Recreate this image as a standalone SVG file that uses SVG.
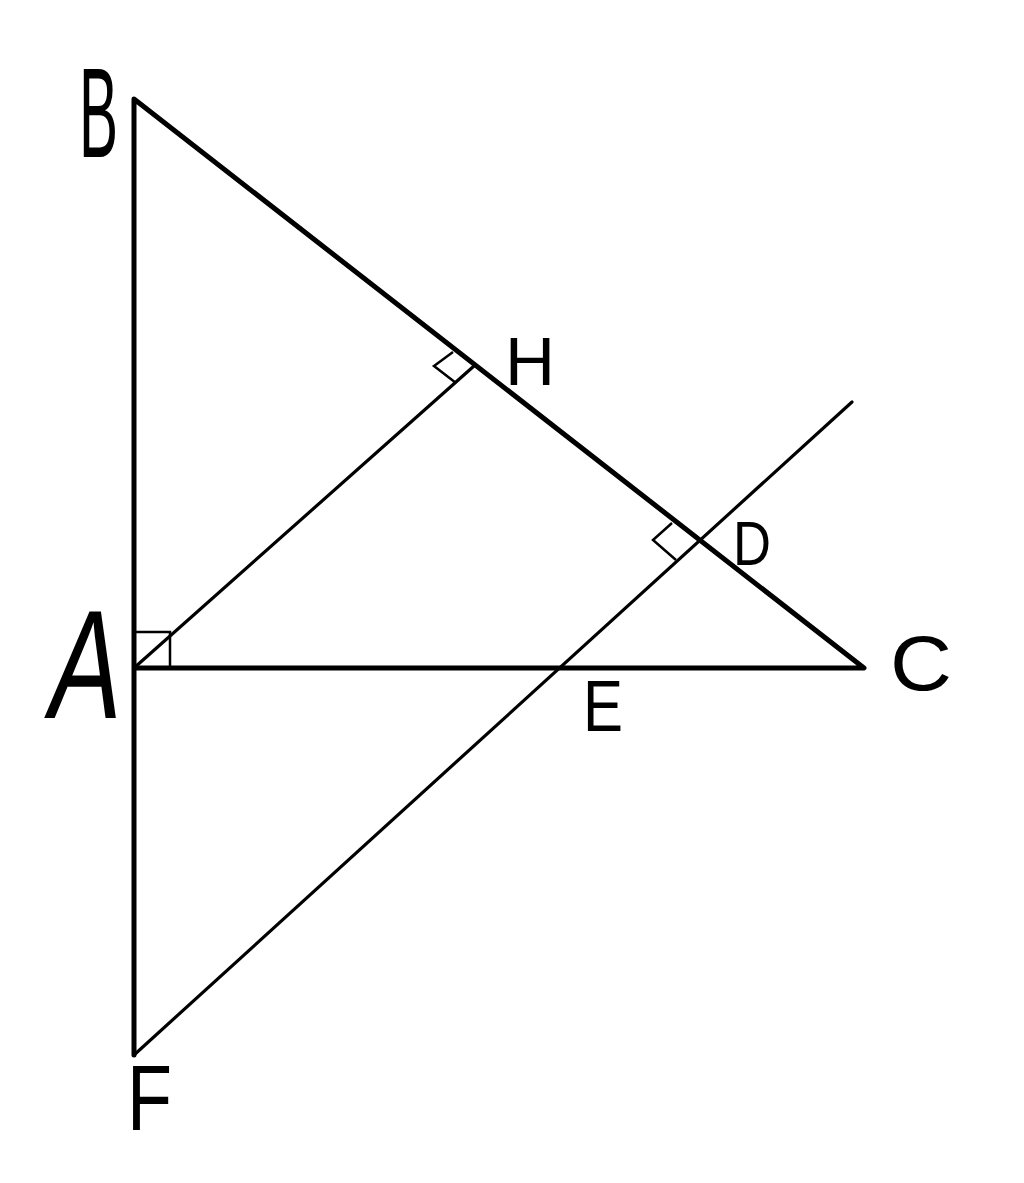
<svg xmlns="http://www.w3.org/2000/svg" width="1024" height="1183" viewBox="0 0 1024 1183">
<style>
.thick{stroke:#000;stroke-width:5;fill:none;stroke-linecap:round;stroke-linejoin:round}
.thin{stroke:#000;stroke-width:3.2;fill:none;stroke-linecap:round}
.mark{stroke:#000;stroke-width:2.5;fill:none;stroke-linejoin:miter}
.lbl{font-family:"Liberation Sans",Arial,sans-serif;fill:#000}
</style>
<rect width="1024" height="1183" fill="#fff"/>
<g id="connectors">
<polyline class="thick" points="134,1055 134,99 864,668 134,668"/>
<line class="thin" x1="134" y1="668" x2="474" y2="366"/>
<line class="thin" x1="134" y1="1055" x2="852" y2="402"/>
<polyline class="mark" points="134,632 170,632 170,668"/>
<polyline class="mark" points="453,352 434,366 456,383"/>
<polyline class="mark" points="672,523 653,540 676,560"/>
</g>
<g id="B"><text class="lbl" x="79" y="157" font-size="128" textLength="39" lengthAdjust="spacingAndGlyphs">B</text></g>
<g id="A"><text class="lbl" x="44" y="718" font-size="155" textLength="72" lengthAdjust="spacingAndGlyphs" transform="translate(101,0) skewX(-8)">A</text></g>
<g id="C"><text class="lbl" x="890" y="690" font-size="77" textLength="62" lengthAdjust="spacingAndGlyphs">C</text></g>
<g id="H"><text class="lbl" x="505" y="385" font-size="68" textLength="50" lengthAdjust="spacingAndGlyphs">H</text></g>
<g id="D"><text class="lbl" x="733" y="565" font-size="63" textLength="38" lengthAdjust="spacingAndGlyphs">D</text></g>
<g id="E"><text class="lbl" x="583" y="731" font-size="72" textLength="40" lengthAdjust="spacingAndGlyphs">E</text></g>
<g id="F"><text class="lbl" x="127" y="1130" font-size="92" textLength="45" lengthAdjust="spacingAndGlyphs">F</text></g>
</svg>
